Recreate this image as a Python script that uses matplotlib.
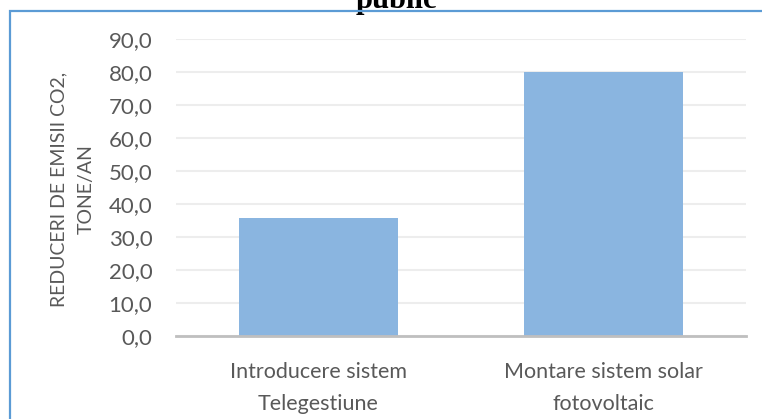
import matplotlib
matplotlib.use("Agg")
import matplotlib.pyplot as plt
from matplotlib.patches import Rectangle

categories = ["Introducere sistem\nTelegestiune", "Montare sistem solar\nfotovoltaic"]
values = [35.8, 80.1]
yticks = [0, 10, 20, 30, 40, 50, 60, 70, 80, 90]
ytick_labels = ["0,0", "10,0", "20,0", "30,0", "40,0", "50,0", "60,0", "70,0", "80,0", "90,0"]
ylabel = "REDUCERI DE EMISII CO2,\nTONE/AN"
title = "public"

W, H = 762, 419
fig = plt.figure(figsize=(W / 100, H / 100), dpi=100)
font = "Lato"
txt_color = "#595959"

ax = fig.add_axes([176 / W, 1 - 336 / H, (746 - 176) / W, (336 - 39.5) / H])
x = range(len(categories))
ax.bar(x, values, width=0.555, color="#8AB5E0", edgecolor="none", zorder=3)
ax.set_xlim(-0.5, 1.5)
ax.set_ylim(0, 90)
ax.set_yticks(yticks)
ax.set_yticklabels(ytick_labels, fontfamily=font, fontsize=16, color=txt_color)
ax.set_xticks(list(x))
ax.set_xticklabels(categories, fontfamily=font, fontsize=15.5, color=txt_color, linespacing=1.72)
ax.tick_params(axis="both", length=0)
ax.tick_params(axis="y", pad=17)
ax.tick_params(axis="x", pad=19)
for s in ["top", "right", "left"]:
    ax.spines[s].set_visible(False)
ax.spines["bottom"].set_color("#BFBFBF")
ax.spines["bottom"].set_linewidth(2)
ax.spines["bottom"].set_zorder(4)
ax.yaxis.grid(True, color="#EDEDED", linewidth=1.5, zorder=0)
ax.set_axisbelow(True)

fig.text(72.5 / W, 1 - 189 / H, ylabel, rotation=90, ha="center", va="center",
         fontfamily=font, fontsize=14, color=txt_color, linespacing=1.7, multialignment="center")

fig.text(396 / W, 1 - 8 / H, title, ha="center", va="baseline",
         fontfamily="Liberation Serif", fontweight="bold", fontsize=22, color="black")

border = Rectangle((9.5 / W, -0.1), 1.2, 1 - 11 / H + 0.1, transform=fig.transFigure,
                   fill=False, edgecolor="#5B9BD5", linewidth=1.6, zorder=10)
fig.add_artist(border)

fig.savefig("out.png", dpi=100)
